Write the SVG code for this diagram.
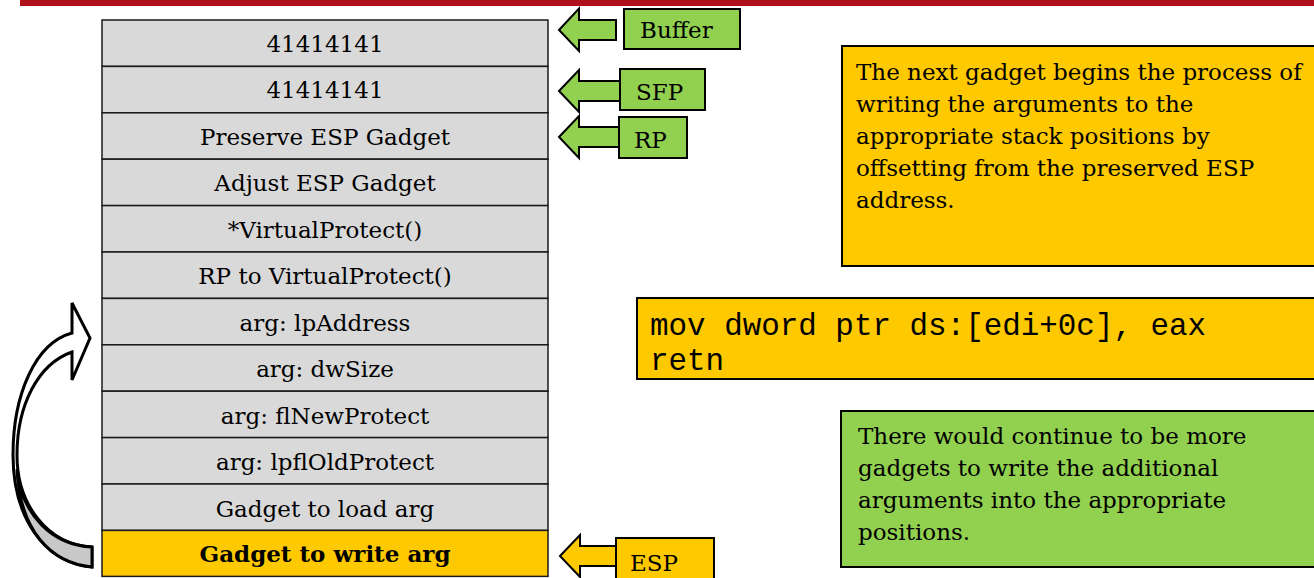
<svg xmlns="http://www.w3.org/2000/svg" width="1314" height="578" viewBox="0 0 1314 578">
<style>
.cell{fill:#d9d9d9;stroke:#1a1a1a;stroke-width:1.5}
.cellY{fill:#ffc900;stroke:#1a1a1a;stroke-width:1.5}
.st{font-family:"DejaVu Serif",serif;font-size:23px;fill:#000;text-anchor:middle}
.bold{font-weight:bold}
.lab{font-family:"DejaVu Serif",serif;font-size:23px;fill:#000}
.gbox{fill:#92d050;stroke:#000;stroke-width:2}
.ybox{fill:#ffc900;stroke:#000;stroke-width:2}
.arrG{fill:#92d050;stroke:#000;stroke-width:2;stroke-linejoin:miter}
.arrY{fill:#ffc900;stroke:#000;stroke-width:2;stroke-linejoin:miter}
.body{font-family:"DejaVu Serif",serif;font-size:23px;fill:#000}
.code{font-family:"Liberation Mono",monospace;font-size:30.9px;fill:#000}
</style>
<rect x="20" y="0" width="1294" height="6" fill="#b0101a"/>
<g id="stack">
<g id="row1"><rect class="cell" x="102" y="20" width="446" height="46.4"/><text class="st" x="325" y="51.5">41414141</text></g>
<g id="row2"><rect class="cell" x="102" y="66.4" width="446" height="46.4"/><text class="st" x="325" y="98">41414141</text></g>
<g id="row3"><rect class="cell" x="102" y="112.8" width="446" height="46.4"/><text class="st" x="325" y="144.5">Preserve ESP Gadget</text></g>
<g id="row4"><rect class="cell" x="102" y="159.2" width="446" height="46.4"/><text class="st" x="325" y="191">Adjust ESP Gadget</text></g>
<g id="row5"><rect class="cell" x="102" y="205.6" width="446" height="46.4"/><text class="st" x="325" y="237.5">*VirtualProtect()</text></g>
<g id="row6"><rect class="cell" x="102" y="252" width="446" height="46.4"/><text class="st" x="325" y="284">RP to VirtualProtect()</text></g>
<g id="row7"><rect class="cell" x="102" y="298.4" width="446" height="46.4"/><text class="st" x="325" y="330.5">arg: lpAddress</text></g>
<g id="row8"><rect class="cell" x="102" y="344.8" width="446" height="46.4"/><text class="st" x="325" y="377">arg: dwSize</text></g>
<g id="row9"><rect class="cell" x="102" y="391.2" width="446" height="46.4"/><text class="st" x="325" y="423.5">arg: flNewProtect</text></g>
<g id="row10"><rect class="cell" x="102" y="437.6" width="446" height="46.4"/><text class="st" x="325" y="470">arg: lpflOldProtect</text></g>
<g id="row11"><rect class="cell" x="102" y="484" width="446" height="46.4"/><text class="st" x="325" y="516.5">Gadget to load arg</text></g>
<g id="row12"><rect class="cellY" x="102" y="530.4" width="446" height="46"/><text class="st bold" x="325" y="562">Gadget to write arg</text></g>
</g>
<g id="connectors">
<path class="arrG" d="M559 30 L579 8.5 L579 20 L616 20 L616 40 L579 40 L579 51 Z"/>
<path class="arrG" d="M559 91 L579 70 L579 81 L620 81 L620 101 L579 101 L579 112 Z"/>
<path class="arrG" d="M559 137 L579 116 L579 127 L619 127 L619 147 L579 147 L579 158 Z"/>
<path class="arrY" d="M560 556 L580 535 L580 546 L616 546 L616 566 L580 566 L580 577 Z"/>
<g id="curved-arrow">
<path d="M72 303 L90 338 L72 380 L72 352 C38 364 17 405 17 455 C17 505 48 545 92 547 L92 567 C42 562 13 515 13 455 C13 395 35 343 72 333 Z" fill="#fff" stroke="#000" stroke-width="3" stroke-linejoin="miter"/>
<path d="M17 470 C22 515 52 545 92 547 L92 567 C50 563 20 530 17 470 Z" fill="#c8c8c8" stroke="#000" stroke-width="3" stroke-linejoin="round"/>
</g>
</g>
<g id="label-buffer"><rect class="gbox" x="624" y="9" width="116" height="40"/><text class="lab" x="640" y="38">Buffer</text></g>
<g id="label-sfp"><rect class="gbox" x="620" y="69" width="85" height="41"/><text class="lab" x="636" y="100">SFP</text></g>
<g id="label-rp"><rect class="gbox" x="619" y="117" width="68" height="41"/><text class="lab" x="634" y="148">RP</text></g>
<g id="label-esp"><rect class="ybox" x="616" y="538" width="98" height="45"/><text class="lab" x="630" y="571">ESP</text></g>
<g id="note-top"><rect class="ybox" x="842" y="46" width="480" height="220"/>
<text class="body" x="856" y="80">The next gadget begins the process of</text>
<text class="body" x="856" y="112">writing the arguments to the</text>
<text class="body" x="856" y="144">appropriate stack positions by</text>
<text class="body" x="856" y="176">offsetting from the preserved ESP</text>
<text class="body" x="856" y="208">address.</text>
</g>
<g id="code-box"><rect class="ybox" x="637" y="298" width="685" height="81"/>
<text class="code" x="650" y="335">mov dword ptr ds:[edi+0c], eax</text>
<text class="code" x="650" y="370">retn</text>
</g>
<g id="note-bottom"><rect class="gbox" x="841" y="411" width="480" height="156"/>
<text class="body" x="858" y="444">There would continue to be more</text>
<text class="body" x="858" y="476">gadgets to write the additional</text>
<text class="body" x="858" y="508">arguments into the appropriate</text>
<text class="body" x="858" y="540">positions.</text>
</g>
</svg>
